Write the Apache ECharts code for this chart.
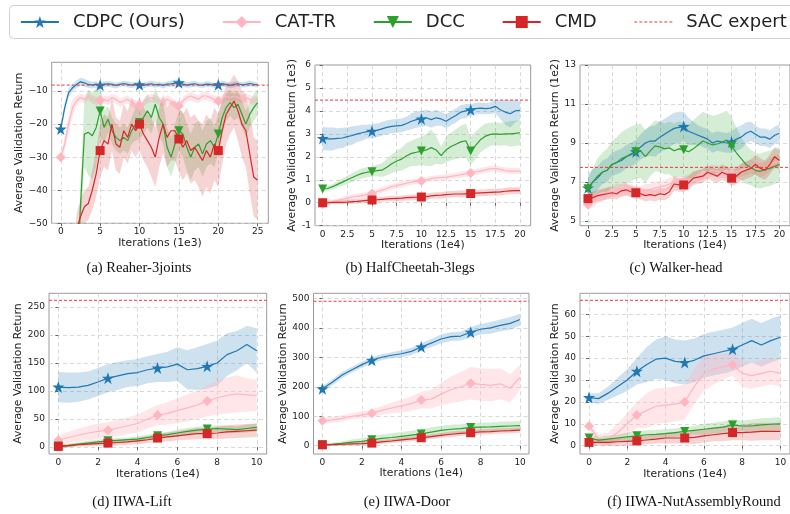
<!DOCTYPE html>
<html>
<head>
<meta charset="utf-8">
<script src="https://cdn.jsdelivr.net/npm/echarts@6.0.0/dist/echarts.min.js"></script>
<style>html,body{margin:0;padding:0;background:#fff}#chart{width:790px;height:514px}</style>
</head>
<body>
<div id="chart"></div>
<script>
// legend / method names
var names = ['CDPC (Ours)', 'CAT-TR', 'DCC', 'CMD', 'SAC expert'];

// ---- (a) Reaher-3joints, x in 1e3 iterations
var xA = [0,0.5,1,1.5,2,2.5,3,3.5,4,4.5,5,5.5,6,6.5,7,7.5,8,8.5,9,9.5,10,10.5,11,11.5,12,12.5,13,13.5,14,14.5,15,15.5,16,16.5,17,17.5,18,18.5,19,19.5,20,20.5,21,21.5,22,22.5,23,23.5,24,24.5,25];
var aCDPC = [-21.5,-15,-10.5,-9,-8,-7.2,-7.5,-8,-8.2,-8,-8.2,-8,-7.8,-8,-8.3,-8,-7.7,-8,-8.2,-8,-8.1,-8.3,-8,-7.8,-8.1,-8,-8.3,-7.9,-7.8,-7.6,-7.5,-7.9,-8.2,-8,-7.8,-8.1,-8.2,-7.9,-8,-8.3,-8.1,-7.8,-8,-8.3,-8,-7.8,-8.1,-8,-7.7,-8,-8.1];
var aCDPCStd = [0.8,1.5,1.3,1.1,1.1,1.2,1.2,1.1,1,0.9,0.9,0.9,0.8,0.9,0.9,0.8,0.8,0.9,0.9,0.8,0.8,0.9,0.8,0.9,0.9,0.8,0.9,0.8,0.9,1,1,0.9,0.8,0.9,0.9,0.8,0.8,0.9,0.8,0.8,0.9,0.9,0.8,0.8,0.9,0.8,0.8,0.9,0.9,0.8,0.8];
var aCAT = [-30,-26,-20,-15,-13,-12,-12.5,-11.5,-12.5,-13,-12.8,-12.5,-13,-12,-12.5,-13.5,-13,-12.5,-13.5,-14,-14.5,-13.5,-12.5,-12,-12.5,-13,-13.5,-12.5,-13,-14,-14.5,-13,-12,-11.5,-12,-12.5,-11.5,-11.5,-12,-12.5,-13,-12.5,-11.5,-12,-11.5,-12,-12.5,-12,-12.5,-13,-12.5];
var aCATStd = [1,2,3,2.5,1.5,1.3,1.2,1.2,1.2,1.2,1.2,1.2,1.3,1.2,1.2,1.3,1.2,1.2,1.3,1.2,1.2,1.2,1.3,1.2,1.2,1.2,1.3,1.2,1.2,1.3,1.2,1.2,1.3,1.2,1.2,1.2,1.3,1.2,1.2,1.2,1.3,1.2,1.2,1.2,1.3,1.2,1.2,1.2,1.3,1.2,1.2];
var aDCC = [-100,-98,-95,-88,-70,-45,-23,-22.5,-23.5,-21,-16,-21,-18.5,-22,-24,-25,-24,-25,-22,-20,-19.5,-18,-16,-18,-14,-18,-20,-27,-30,-26,-22,-23,-27,-30,-27,-26,-29,-26,-25,-27,-23,-18,-15,-13.5,-15,-14,-17,-20,-17,-15,-13.5];
var aDCCStd = [5,5,5,5,5,6,10,13,13,12,8,5,4,4,4,4,4,4,4,5,5,5,5,5,5,6,6,6,6,6,6,7,7,7,7,7,7,7,7,6,6,5,4,4,4,4,4,4,4,4,4];
var aCMD = [-100,-98,-95,-70,-52,-48,-45,-44,-40,-35,-28,-25,-26,-20,-26,-27,-22,-24,-20,-22,-20,-23,-25,-27,-30,-24,-20,-24,-22,-22,-24.5,-27,-25,-28,-27,-29,-31,-28,-30,-26,-28,-22,-17,-15,-13,-16,-20,-22,-29,-36,-37];
var aCMDStd = [5,5,5,5,5,5,5,5,6,7,8,8,8,8,8,8,8,8,8,8,8,8,8,9,9,9,9,9,9,9,10,10,10,10,10,10,11,11,11,11,11,10,9,8,8,9,10,11,12,12,12];

// ---- (b) HalfCheetah-3legs, x in 1e4, y in 1e3
var xB = [0,0.5,1,1.5,2,2.5,3,3.5,4,4.5,5,5.5,6,6.5,7,7.5,8,8.5,9,9.5,10,10.5,11,11.5,12,12.5,13,13.5,14,14.5,15,15.5,16,16.5,17,17.5,18,18.5,19,19.5,20];
var bCDPC = [2.8,2.78,2.78,2.8,2.82,2.88,2.93,3.0,3.05,3.1,3.12,3.15,3.22,3.28,3.33,3.35,3.37,3.45,3.55,3.62,3.65,3.7,3.62,3.7,3.65,3.55,3.68,3.8,3.95,4.0,4.05,4.1,4.12,4.1,4.12,4.2,4.05,3.95,3.88,4.0,4.03];
var bCDPCStd = [0.5,0.5,0.5,0.45,0.45,0.4,0.4,0.35,0.35,0.3,0.3,0.3,0.3,0.3,0.3,0.3,0.3,0.3,0.35,0.35,0.35,0.35,0.35,0.35,0.3,0.3,0.3,0.3,0.3,0.3,0.25,0.25,0.25,0.25,0.25,0.3,0.4,0.55,0.6,0.5,0.4];
var bCAT = [-0.05,0.0,0.05,0.1,0.15,0.2,0.25,0.28,0.32,0.36,0.4,0.48,0.55,0.62,0.7,0.75,0.8,0.85,0.9,0.93,0.95,1.0,1.05,1.08,1.1,1.12,1.15,1.18,1.22,1.26,1.3,1.34,1.38,1.43,1.48,1.5,1.45,1.4,1.38,1.38,1.38];
var bCATStd = [0.1,0.1,0.1,0.1,0.1,0.12,0.12,0.12,0.12,0.12,0.12,0.12,0.12,0.12,0.12,0.12,0.12,0.12,0.12,0.12,0.12,0.12,0.12,0.12,0.12,0.12,0.12,0.12,0.13,0.13,0.13,0.13,0.13,0.13,0.13,0.13,0.13,0.13,0.13,0.13,0.13];
var bDCC = [0.6,0.62,0.7,0.8,0.9,1.0,1.1,1.2,1.28,1.33,1.35,1.4,1.42,1.55,1.7,1.82,1.9,2.05,2.15,2.2,2.25,2.3,2.4,2.3,2.05,2.3,2.45,2.55,2.65,2.7,2.25,2.5,2.75,2.9,2.98,3.0,2.98,3.0,3.0,3.02,3.05];
var bDCCStd = [0.1,0.1,0.12,0.14,0.16,0.18,0.2,0.2,0.22,0.22,0.22,0.25,0.3,0.35,0.4,0.45,0.5,0.55,0.55,0.6,0.6,0.7,0.8,0.6,0.4,0.55,0.6,0.65,0.7,0.75,0.6,0.6,0.55,0.55,0.5,0.5,0.5,0.5,0.55,0.55,0.55];
var bCMD = [0,0,0.02,0.02,0.02,0.03,0.05,0.06,0.08,0.1,0.12,0.13,0.15,0.17,0.18,0.19,0.2,0.22,0.23,0.24,0.25,0.27,0.3,0.32,0.33,0.35,0.37,0.38,0.38,0.39,0.4,0.42,0.43,0.44,0.45,0.46,0.47,0.5,0.52,0.53,0.53];
var bCMDStd = [0.08,0.08,0.08,0.08,0.09,0.09,0.1,0.1,0.1,0.1,0.1,0.11,0.11,0.11,0.12,0.12,0.12,0.12,0.13,0.13,0.13,0.13,0.13,0.14,0.14,0.14,0.14,0.14,0.15,0.15,0.15,0.15,0.15,0.15,0.15,0.15,0.15,0.15,0.15,0.15,0.15];

// ---- (c) Walker-head, x in 1e4, y in 1e2
var xC = [0,0.5,1,1.5,2,2.5,3,3.5,4,4.5,5,5.5,6,6.5,7,7.5,8,8.5,9,9.5,10,10.5,11,11.5,12,12.5,13,13.5,14,14.5,15,15.5,16,16.5,17,17.5,18,18.5,19,19.5,20];
var cCDPC = [6.7,7.0,7.2,7.5,7.6,7.9,8.0,8.1,8.3,8.4,8.55,8.8,9.0,9.1,9.1,9.3,9.45,9.6,9.75,9.8,9.85,9.6,9.5,9.4,9.3,9.2,9.0,9.1,9.05,9.0,9.05,9.2,9.3,9.5,9.6,9.45,9.3,9.3,9.2,9.4,9.5];
var cCDPCStd = [0.7,0.65,0.6,0.6,0.6,0.6,0.6,0.6,0.6,0.6,0.6,0.65,0.7,0.75,0.8,0.8,0.8,0.8,0.8,0.8,0.75,0.7,0.6,0.5,0.5,0.5,0.5,0.5,0.5,0.5,0.55,0.6,0.6,0.55,0.5,0.45,0.45,0.45,0.45,0.45,0.45];
var cCAT = [5.85,6.0,6.2,6.3,6.45,6.5,6.6,6.6,6.65,6.6,6.5,6.5,6.6,6.6,6.7,6.75,6.8,6.9,7.0,7.0,7.0,7.1,7.2,7.3,7.4,7.5,7.6,7.55,7.5,7.5,7.45,7.5,7.6,7.7,7.8,7.7,7.6,7.7,7.9,8.0,8.1];
var cCATStd = [0.3,0.3,0.3,0.3,0.3,0.3,0.3,0.3,0.3,0.3,0.3,0.3,0.3,0.3,0.3,0.3,0.3,0.3,0.3,0.3,0.3,0.3,0.3,0.3,0.3,0.3,0.3,0.3,0.3,0.3,0.3,0.3,0.3,0.35,0.35,0.35,0.35,0.35,0.35,0.35,0.35];
var cDCC = [6.65,7.0,7.3,7.5,7.6,7.9,8.0,8.2,8.3,8.45,8.55,8.6,8.3,8.6,8.85,8.8,8.7,8.75,8.6,8.7,8.65,8.55,8.7,8.9,9.1,9.0,8.9,8.95,9.05,9.15,8.85,8.5,8.2,7.9,7.75,7.6,7.55,7.65,7.7,7.8,7.9];
var cDCCStd = [0.5,0.7,0.9,1.0,1.1,1.2,1.3,1.35,1.4,1.4,1.4,1.4,1.35,1.3,1.3,1.3,1.3,1.35,1.4,1.4,1.4,1.4,1.45,1.5,1.5,1.5,1.5,1.5,1.5,1.5,1.5,1.3,1.1,1.0,0.9,0.9,0.9,0.9,0.9,0.9,0.9];
var cCMD = [6.15,6.2,6.3,6.35,6.4,6.45,6.4,6.55,6.6,6.5,6.45,6.4,6.3,6.35,6.3,6.4,6.35,6.5,6.9,6.85,6.85,6.95,7.2,7.25,7.3,7.5,7.4,7.3,7.5,7.4,7.2,7.3,7.5,7.6,7.7,7.9,7.7,7.6,7.9,8.3,8.1];
var cCMDStd = [0.3,0.3,0.3,0.3,0.3,0.3,0.3,0.3,0.3,0.3,0.3,0.3,0.3,0.3,0.3,0.3,0.3,0.3,0.35,0.35,0.35,0.35,0.35,0.35,0.35,0.35,0.35,0.35,0.4,0.4,0.4,0.4,0.45,0.45,0.45,0.5,0.5,0.5,0.5,0.5,0.5];

// ---- (d) IIWA-Lift, x in 1e4
var xD = [0,0.5,1,1.5,2,2.5,3,3.5,4,4.5,5,5.5,6,6.5,7,7.5,8,8.5,9,9.5,10];
var dCDPC = [107,106,107,110,116,123,127,131,133,138,141,143,148,138,140,144,150,165,172,183,172];
var dCDPCStd = [27,27,26,25,25,25,25,24,24,24,25,27,30,35,38,40,40,38,35,33,40];
var dCAT = [12,17,21,25,28,30,34,38,42,50,57,60,65,70,75,82,88,92,95,93,92];
var dCATStd = [8,10,12,13,14,14,15,15,16,17,18,20,22,24,25,28,30,32,33,30,28];
var dDCC = [2,3,5,7,9,11,12,13,14,17,20,22,25,28,30,32,33,32,31,33,35];
var dDCCStd = [3,3,3,4,4,4,4,4,5,5,5,5,6,6,6,6,6,6,6,7,7];
var dCMD = [1,2,4,5,6,7,8,9,11,13,16,18,20,22,24,24,25,27,28,29,30];
var dCMDStd = [3,3,3,4,4,5,5,5,6,6,7,8,8,9,10,10,11,12,12,12,12];

// ---- (e) IIWA-Door
var xE = [0,0.5,1,1.5,2,2.5,3,3.5,4,4.5,5,5.5,6,6.5,7,7.5,8,8.5,9,9.5,10];
var eCDPC = [193,215,240,258,275,290,300,307,312,320,335,348,362,370,372,385,395,400,408,415,428];
var eCDPCStd = [10,10,10,10,10,10,10,10,12,12,12,14,15,15,15,18,18,20,20,22,20];
var eCAT = [85,88,93,100,105,110,120,128,135,143,155,158,175,190,200,212,208,205,210,195,232];
var eCATStd = [10,10,10,10,12,12,15,18,22,25,28,32,38,45,50,55,55,55,52,48,42];
var eDCC = [3,5,8,12,15,20,25,28,32,36,40,46,52,56,58,62,63,64,66,67,68];
var eDCCStd = [3,5,7,9,10,12,13,14,15,15,16,16,16,15,15,15,15,15,15,15,15];
var eCMD = [3,4,5,6,7,9,13,16,20,23,27,31,35,39,42,44,47,48,50,51,53];
var eCMDStd = [3,4,5,5,6,6,7,7,8,8,8,8,8,9,9,9,9,9,9,9,9];

// ---- (f) IIWA-NutAssemblyRound
var xF = [0,0.5,1,1.5,2,2.5,3,3.5,4,4.5,5,5.5,6,6.5,7,7.5,8,8.5,9,9.5,10];
var fCDPC = [22,21.5,24,27,30,34,37,39.5,40,38.5,38,39,41,42,43,44,46,48,46,48,49.5];
var fCDPCStd = [2,2.5,3,4,5,6,8,9,10,10,10,10,10,10,10,10,10,10,10,10,10];
var fCAT = [9,3,3,6,10,14,16,18,18.5,19,20,27,33,35,36,37,33,32,33,34,33];
var fCATStd = [2,2,3,4,5,6,8,8,8,8,8,8,8,7,6,5,6,6,6,6,6];
var fDCC = [3.5,2.5,3,3.5,4,4.5,5,5.2,5.5,6,6.5,7,7.5,8,8.5,9.5,9,9,9.5,9.8,10];
var fDCCStd = [1.5,1.5,1.5,1.5,2,2,2,2,2,2,2,2,2.5,2.5,2.5,2.5,2.5,3,3,3,3];
var fCMD = [1.5,1.5,1.5,1.8,2,2.2,2.6,3,3.5,3.5,3.5,3.8,4.5,5,5.5,6,6,6.2,6.5,6.5,6.5];
var fCMDStd = [1.5,1.5,1.5,2,2,2,2,2,2.5,2.5,2.5,3,3,3,3.5,3.5,3.5,4,4,4,4];

// SAC expert levels
var sacLevels = [-8.2, 4.47, 7.75, 262, 490, 66.4];

// tick labels
var xTicksA = [0, 5, 10, 15, 20, 25];
var xTicksBC = [0, 2.5, 5, 7.5, 10, 12.5, 15, 17.5, 20];
var xTicksDEF = [0, 2, 4, 6, 8, 10];
var yTicksA = [-50, -40, -30, -20, -10];
var yTicksB = [-1, 0, 1, 2, 3, 4, 5, 6];
var yTicksC = [5, 7, 9, 11, 13];
var yTicksD = [0, 50, 100, 150, 200, 250];
var yTicksE = [0, 100, 200, 300, 400, 500];
var yTicksF = [0, 10, 20, 30, 40, 50, 60];

var captions = ['(a) Reaher-3joints', '(b) HalfCheetah-3legs', '(c) Walker-head',
                '(d) IIWA-Lift', '(e) IIWA-Door', '(f) IIWA-NutAssemblyRound'];

var colors = ['#1f77b4', '#ffb6c1', '#2ca02c', '#d62728'];
var bandColors = ['rgba(31,119,180,0.22)', 'rgba(255,182,193,0.35)', 'rgba(44,160,44,0.2)', 'rgba(214,39,40,0.2)'];
var starPath = 'path://M12,0 L14.9,8.6 L24,8.6 L16.6,14 L19.4,22.8 L12,17.4 L4.6,22.8 L7.4,14 L0,8.6 L9.1,8.6 Z';
var symbols = [starPath, 'diamond', 'path://M0,0 L10,0 L5,8.7 Z', 'rect'];
var symbolSizes = [12, 10, 9, 9];
var sacColor = '#f03a3a';
var FONT = 'DejaVu Sans';

var panels = [
    {x: xA, mean: [aCDPC, aCAT, aDCC, aCMD], std: [aCDPCStd, aCATStd, aDCCStd, aCMDStd], marks: [0, 10, 20, 30, 40],
     xMin: -1.15, xMax: 26.35, yMin: -50, yMax: -1.3, xTicks: xTicksA, yTicks: yTicksA, minus: true,
     xName: 'Iterations (1e3)', yName: 'Average Validation Return',
     grid: {left: 51.7, top: 62.3, width: 216.6, height: 161}, yGap: 25, xGap: 13, capX: 139, capY: 268},
    {x: xB, mean: [bCDPC, bCAT, bDCC, bCMD], std: [bCDPCStd, bCATStd, bDCCStd, bCMDStd], marks: [0, 10, 20, 30],
     xMin: -0.78, xMax: 21.08, yMin: -1, yMax: 6, xTicks: xTicksBC, yTicks: yTicksB,
     xName: 'Iterations (1e4)', yName: 'Average Validation Return (1e3)',
     grid: {left: 315, top: 65, width: 215.7, height: 160.7}, yGap: 16, xGap: 14, capX: 410, capY: 268},
    {x: xC, mean: [cCDPC, cCAT, cDCC, cCMD], std: [cCDPCStd, cCATStd, cDCCStd, cCMDStd], marks: [0, 10, 20, 30],
     xMin: -0.83, xMax: 21.1, yMin: 4.76, yMax: 13, xTicks: xTicksBC, yTicks: yTicksC,
     xName: 'Iterations (1e4)', yName: 'Average Validation Return (1e2)',
     grid: {left: 580, top: 65, width: 219, height: 160.7}, yGap: 18, xGap: 14, capX: 676, capY: 268},
    {x: xD, mean: [dCDPC, dCAT, dDCC, dCMD], std: [dCDPCStd, dCATStd, dDCCStd, dCMDStd], marks: [0, 5, 10, 15],
     xMin: -0.47, xMax: 10.5, yMin: -12.5, yMax: 274.5, xTicks: xTicksDEF, yTicks: yTicksD,
     xName: 'Iterations (1e4)', yName: 'Average Validation Return',
     grid: {left: 49, top: 293.3, width: 217.7, height: 160.7}, yGap: 24, xGap: 15, capX: 132, capY: 502},
    {x: xE, mean: [eCDPC, eCAT, eDCC, eCMD], std: [eCDPCStd, eCATStd, eDCCStd, eCMDStd], marks: [0, 5, 10, 15],
     xMin: -0.45, xMax: 10.45, yMin: -28, yMax: 517, xTicks: xTicksDEF, yTicks: yTicksE,
     xName: 'Iterations (1e4)', yName: 'Average Validation Return',
     grid: {left: 313.5, top: 293.3, width: 215.5, height: 160.7}, yGap: 25, xGap: 13.5, capX: 407, capY: 502},
    {x: xF, mean: [fCDPC, fCAT, fDCC, fCMD], std: [fCDPCStd, fCATStd, fDCCStd, fCMDStd], marks: [0, 5, 10, 15],
     xMin: -0.47, xMax: 10.5, yMin: -3.8, yMax: 69.6, xTicks: xTicksDEF, yTicks: yTicksF,
     xName: 'Iterations (1e4)', yName: 'Average Validation Return',
     grid: {left: 580, top: 293.3, width: 217.5, height: 160.7}, yGap: 19.5, xGap: 15, capX: 694, capY: 502}
];

var grids = [], xAxes = [], yAxes = [], series = [], graphics = [];

graphics.push({type: 'rect', left: 9, top: 5, z: 0,
    shape: {x: 0, y: 0, width: 800, height: 33, r: 4},
    style: {fill: '#fff', stroke: '#d0d0d0', lineWidth: 1}});

panels.forEach(function (p, gi) {
    grids.push(Object.assign({show: true, borderColor: '#999', borderWidth: 1, backgroundColor: 'transparent'}, p.grid));

    xAxes.push({
        gridIndex: gi, type: 'value', min: p.xMin, max: p.xMax,
        axisLine: {show: false},
        axisTick: {show: true, length: 3, customValues: p.xTicks, lineStyle: {color: '#666'}},
        axisLabel: {customValues: p.xTicks, fontSize: 9, fontFamily: FONT, color: '#222', margin: 4},
        splitLine: {show: true, lineStyle: {color: '#cfcfcf', type: [4, 3], width: 0.8}},
        name: p.xName, nameLocation: 'middle', nameGap: p.xGap,
        nameTextStyle: {fontSize: 10.8, fontFamily: FONT, color: '#222'}
    });
    yAxes.push({
        gridIndex: gi, type: 'value', min: p.yMin, max: p.yMax,
        axisLine: {show: false},
        axisTick: {show: true, length: 3, customValues: p.yTicks, lineStyle: {color: '#666'}},
        axisLabel: {customValues: p.yTicks, fontSize: 9, fontFamily: FONT, color: '#222', margin: 4,
            formatter: function (v) { return p.minus ? String(v).replace('-', '\u2212') : String(v); }},
        splitLine: {show: true, lineStyle: {color: '#cfcfcf', type: [4, 3], width: 0.8}},
        name: p.yName, nameLocation: 'middle', nameGap: p.yGap, nameRotate: 90,
        nameTextStyle: {fontSize: 10.8, fontFamily: FONT, color: '#222'}
    });

    for (var k = 0; k < 4; k++) {
        (function (k) {
            var xs = p.x, m = p.mean[k], s = p.std[k];
            series.push({
                type: 'custom', xAxisIndex: gi, yAxisIndex: gi, silent: true, clip: true, z: 2,
                data: [[xs[0], m[0]]],
                renderItem: function (params, api) {
                    var pts = [];
                    for (var i = 0; i < xs.length; i++) pts.push(api.coord([xs[i], m[i] + s[i]]));
                    for (var j = xs.length - 1; j >= 0; j--) pts.push(api.coord([xs[j], m[j] - s[j]]));
                    return {type: 'polygon', shape: {points: pts}, style: {fill: bandColors[k], stroke: null}};
                }
            });
            series.push({
                type: 'line', name: names[k], xAxisIndex: gi, yAxisIndex: gi, z: 2,
                data: xs.map(function (x, i) {
                    var item = {value: [x, m[i]]};
                    if (p.marks.indexOf(i) < 0 || m[i] < p.yMin) item.symbol = 'none';
                    return item;
                }),
                symbol: symbols[k], symbolSize: symbolSizes[k], showSymbol: true, clip: true, silent: true,
                lineStyle: {color: colors[k], width: 1.2}, itemStyle: {color: colors[k]}
            });
        })(k);
    }
    series.push({
        type: 'line', name: names[4], xAxisIndex: gi, yAxisIndex: gi, z: 3, silent: true,
        data: [[p.xMin, sacLevels[gi]], [p.xMax, sacLevels[gi]]], symbol: 'none',
        lineStyle: {color: sacColor, width: 1, type: [3, 2]}, itemStyle: {color: sacColor}
    });

    graphics.push({type: 'text', x: p.capX, y: p.capY, z: 5,
        style: {text: captions[gi], textAlign: 'center', textVerticalAlign: 'middle',
            font: '14.5px "Liberation Serif"', fill: '#111'}});
});

var legendData = names.slice(0, 4).concat([{
    name: names[4], itemStyle: {opacity: 0}, lineStyle: {type: [3, 2], width: 1.2, color: sacColor}
}]);

var chart = echarts.init(document.getElementById('chart'));
chart.setOption({
    animation: false,
    backgroundColor: '#fff',
    grid: grids, xAxis: xAxes, yAxis: yAxes, series: series,
    graphic: graphics,
    legend: {
        data: legendData, left: 20, top: 13, z: 10, padding: 0, width: 1000,
        itemWidth: 38, itemHeight: 15, itemGap: 37,
        lineStyle: {width: 1.8},
        textStyle: {fontSize: 18, fontFamily: FONT, color: '#222', padding: [0, 0, 0, 9]}
    }
});
</script>
</body>
</html>
